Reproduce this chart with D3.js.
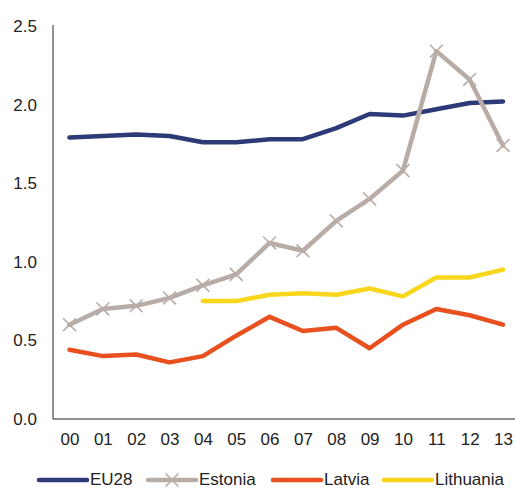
<!DOCTYPE html>
<html>
<head>
<meta charset="utf-8">
<script src="https://cdn.jsdelivr.net/npm/d3@7"></script>
<style>
  body { margin: 0; background: #fff; }
  svg { font-family: "Liberation Sans", Arial, sans-serif; }
</style>
</head>
<body>
<div id="chart"></div>
<script>
const years = ['00', '01', '02', '03', '04', '05', '06', '07', '08', '09', '10', '11', '12', '13'];
const eu28 = [1.79, 1.80, 1.81, 1.80, 1.76, 1.76, 1.78, 1.78, 1.85, 1.94, 1.93, 1.97, 2.01, 2.02];
const estonia = [0.60, 0.70, 0.72, 0.77, 0.85, 0.92, 1.12, 1.07, 1.26, 1.40, 1.58, 2.34, 2.16, 1.74];
const latvia = [0.44, 0.40, 0.41, 0.36, 0.40, 0.53, 0.65, 0.56, 0.58, 0.45, 0.60, 0.70, 0.66, 0.60];
const lithuania = [null, null, null, null, 0.75, 0.75, 0.79, 0.80, 0.79, 0.83, 0.78, 0.90, 0.90, 0.95];
const yTicks = [0, 0.5, 1.0, 1.5, 2.0, 2.5];

const series = [
  { name: 'EU28', values: eu28, color: '#2c3a78', marker: false },
  { name: 'Estonia', values: estonia, color: '#b8ada6', marker: true },
  { name: 'Latvia', values: latvia, color: '#e8511f', marker: false },
  { name: 'Lithuania', values: lithuania, color: '#f8d61b', marker: false }
];

const W = 515, H = 489;
const axisLeft = 53, axisBottom = 419, axisTop = 26;

const svg = d3.select('#chart')
  .append('svg')
  .attr('width', W)
  .attr('height', H);

const x = d3.scalePoint().domain(years).range([69.5, 503]);
const y = d3.scaleLinear().domain([0, 2.5]).range([axisBottom, axisTop]);

// axes: plain lines, no tick marks
svg.append('g')
  .attr('transform', `translate(${axisLeft},0)`)
  .call(d3.axisLeft(y).tickValues(yTicks).tickFormat(d3.format('.1f')).tickSize(0).tickPadding(16))
  .call(g => g.select('.domain').attr('stroke', '#222').attr('d', `M0,${axisTop - 1}V${axisBottom}`))
  .call(g => g.selectAll('text').attr('font-size', 17).attr('fill', '#222').attr('font-family', null));

svg.append('g')
  .attr('transform', `translate(0,${axisBottom})`)
  .call(d3.axisBottom(x).tickSize(0).tickPadding(14))
  .call(g => g.select('.domain').attr('stroke', '#222').attr('d', `M${axisLeft},0H${W}`))
  .call(g => g.selectAll('text').attr('font-size', 17).attr('fill', '#222').attr('font-family', null));

const line = d3.line()
  .defined(d => d != null)
  .x((d, i) => x(years[i]))
  .y(d => y(d));

const cross = d3.symbol().type(d3.symbolX).size(110);

series.forEach(s => {
  svg.append('path')
    .datum(s.values)
    .attr('fill', 'none')
    .attr('stroke', s.color)
    .attr('stroke-width', 4.5)
    .attr('stroke-linejoin', 'round')
    .attr('stroke-linecap', 'round')
    .attr('d', line);

  if (s.marker) {
    svg.selectAll(null)
      .data(s.values)
      .enter()
      .append('path')
        .attr('transform', (d, i) => `translate(${x(years[i])},${y(d)})`)
        .attr('d', cross)
        .attr('fill', 'none')
        .attr('stroke', s.color)
        .attr('stroke-width', 1.6);
  }
});

// legend, kept just inside the bottom edge
const legendY = 480;
const legendX = [39, 148, 273, 384];
const legend = svg.append('g');
series.forEach((s, i) => {
  const g = legend.append('g').attr('transform', `translate(${legendX[i]},${legendY})`);
  g.append('line')
    .attr('x1', 0).attr('x2', 48)
    .attr('stroke', s.color)
    .attr('stroke-width', 4.5)
    .attr('stroke-linecap', 'round');
  if (s.marker) {
    g.append('path')
      .attr('transform', 'translate(24,0)')
      .attr('d', cross)
      .attr('fill', 'none')
      .attr('stroke', s.color)
      .attr('stroke-width', 1.6);
  }
  g.append('text')
    .attr('x', 51)
    .attr('y', 5)
    .attr('font-size', 17)
    .attr('fill', '#222')
    .text(s.name);
});
</script>
</body>
</html>
